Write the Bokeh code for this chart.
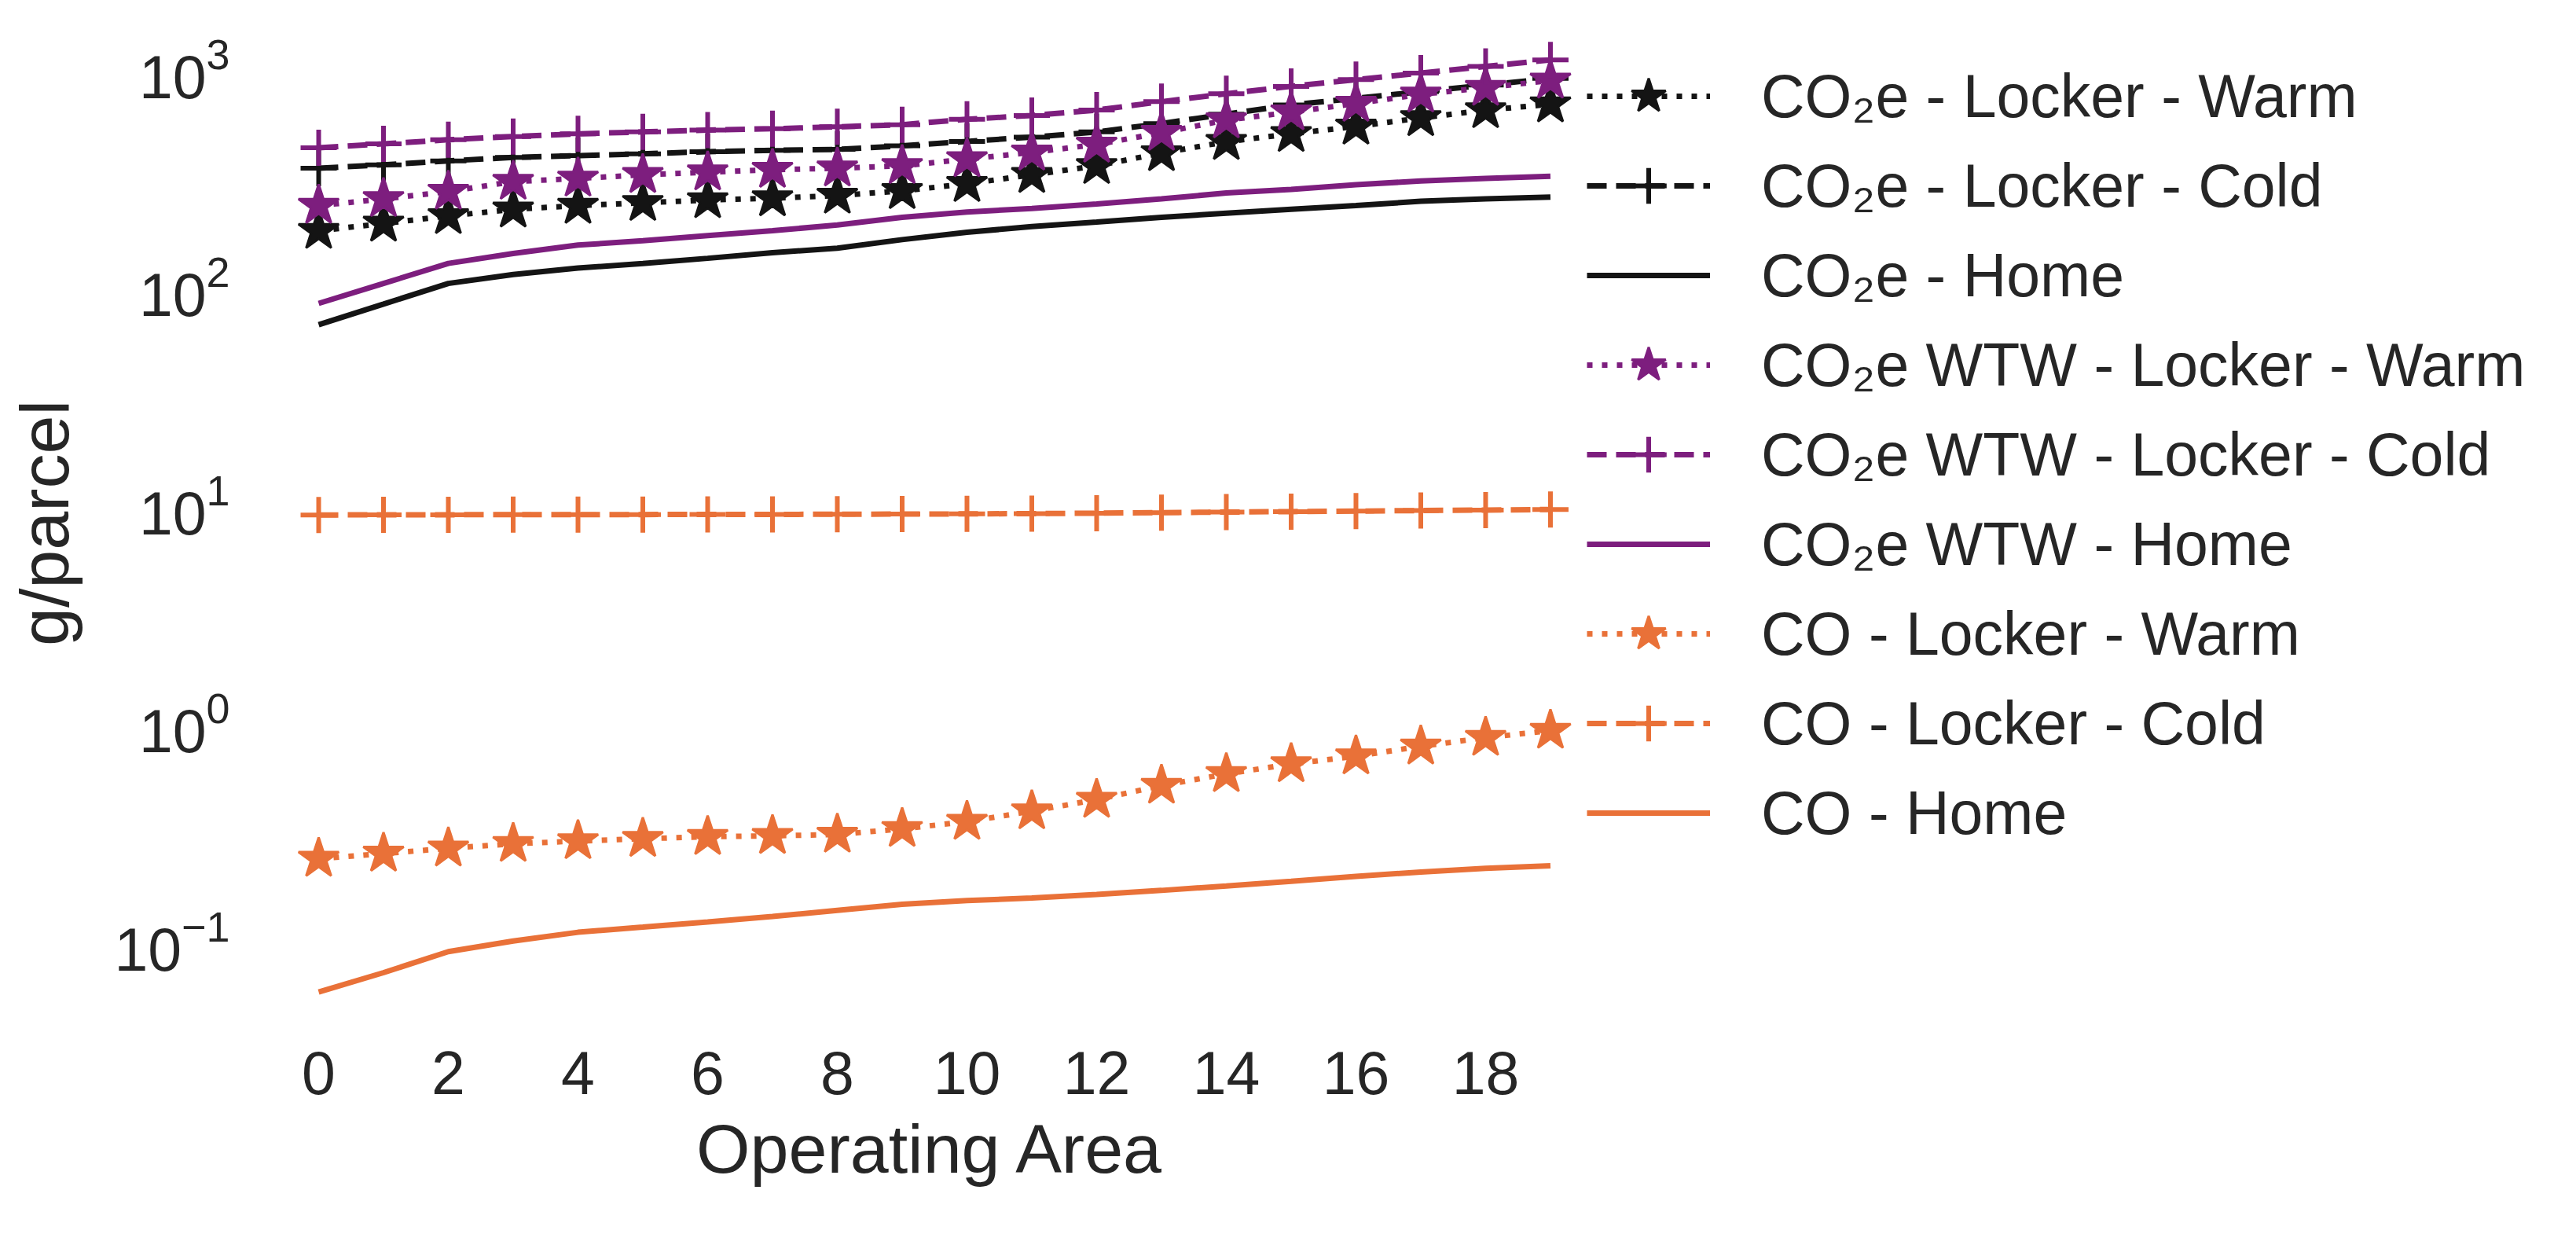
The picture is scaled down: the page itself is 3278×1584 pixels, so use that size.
from bokeh.plotting import figure
from bokeh.models import Range1d, FixedTicker, Legend, LegendItem
from bokeh.embed import file_html
from bokeh.resources import INLINE

# ---------------- data ----------------
operating_area = list(range(20))
x_ticks = [0, 2, 4, 6, 8, 10, 12, 14, 16, 18]
y_ticks = [0.1, 1, 10, 100, 1000]

co2e_locker_warm = [178, 192, 208, 223, 232, 239, 246, 251, 258, 271,
                    292, 321, 353, 404, 455, 495, 535, 585, 636, 676]
co2e_locker_cold = [344, 357, 372, 386, 393, 401, 410, 416, 420, 436,
                    457, 478, 505, 552, 609, 672, 720, 773, 828, 889]
co2e_home = [66, 82, 102, 112, 120, 126, 133, 141, 148, 162,
             175, 186, 195, 205, 214, 223, 232, 243, 249, 254]

wtw_locker_warm = [232, 249, 269, 299, 309, 321, 330, 339, 344, 353,
                   379, 407, 442, 501, 572, 622, 681, 751, 806, 869]
wtw_locker_cold = [427, 445, 465, 481, 495, 505, 515, 522, 533, 545,
                   577, 601, 636, 695, 756, 817, 877, 940, 1008, 1081]
wtw_home = [82.6, 102, 126, 140, 153, 160, 169, 178, 189, 205,
            217, 225, 236, 249, 265, 275, 289, 301, 309, 316]

co_locker_warm = [0.235, 0.248, 0.262, 0.275, 0.283, 0.290, 0.296, 0.299, 0.303, 0.322,
                  0.347, 0.388, 0.438, 0.508, 0.575, 0.638, 0.693, 0.769, 0.843, 0.908]
co_locker_cold = [8.85, 8.86, 8.87, 8.88, 8.88, 8.89, 8.90, 8.90, 8.92, 8.93,
                  8.95, 8.98, 9.02, 9.07, 9.12, 9.17, 9.22, 9.27, 9.32, 9.38]
co_home = [0.0575, 0.0705, 0.088, 0.0985, 0.108, 0.114, 0.1205, 0.1275, 0.136, 0.145,
           0.151, 0.155, 0.161, 0.168, 0.176, 0.185, 0.195, 0.204, 0.212, 0.218]

series_labels = [
    "CO\u2082e - Locker - Warm", "CO\u2082e - Locker - Cold", "CO\u2082e - Home",
    "CO\u2082e WTW - Locker - Warm", "CO\u2082e WTW - Locker - Cold", "CO\u2082e WTW - Home",
    "CO - Locker - Warm", "CO - Locker - Cold", "CO - Home",
]
series_values = [
    co2e_locker_warm, co2e_locker_cold, co2e_home,
    wtw_locker_warm, wtw_locker_cold, wtw_home,
    co_locker_warm, co_locker_cold, co_home,
]

# ---------------- styles ----------------
BLACK = "#141414"
PURPLE = "#7d1e7e"
ORANGE = "#e97138"
TEXT = "#262626"
FONT = "Liberation Sans"
colors = [BLACK] * 3 + [PURPLE] * 3 + [ORANGE] * 3
kinds = ["warm", "cold", "home"] * 3

p = figure(frame_width=1670, frame_height=1302,
           x_range=Range1d(-0.679, 19.564), y_range=Range1d(0.0366, 1803),
           y_axis_type="log", output_backend="svg", toolbar_location=None,
           min_border_left=349, min_border_right=0,
           min_border_top=14, min_border_bottom=252,
           background_fill_color="white", border_fill_color="white")
p.outline_line_color = None
p.grid.visible = False

p.xaxis.ticker = FixedTicker(ticks=x_ticks)
p.yaxis.ticker = FixedTicker(ticks=y_ticks, minor_ticks=[])
p.xaxis.axis_label = "Operating Area"
p.yaxis.axis_label = "g/parcel"

for ax in (p.xaxis[0], p.yaxis[0]):
    ax.axis_line_color = None
    ax.major_tick_line_color = None
    ax.minor_tick_line_color = None
    ax.major_tick_out = 0
    ax.major_tick_in = 0
    ax.minor_tick_out = 0
    ax.minor_tick_in = 0
    ax.major_label_text_font = FONT
    ax.major_label_text_font_size = "77px"
    ax.major_label_text_color = TEXT
    ax.axis_label_text_font = FONT
    ax.axis_label_text_font_size = "88px"
    ax.axis_label_text_font_style = "normal"
    ax.axis_label_text_color = TEXT

p.xaxis.major_label_standoff = 21
p.xaxis.axis_label_standoff = 17
p.yaxis.major_label_standoff = 57
p.yaxis.axis_label_standoff = 36

items = []
for label, vals, col, kind in zip(series_labels, series_values, colors, kinds):
    rs = []
    if kind == "warm":
        rs.append(p.line(operating_area, vals, line_color=col, line_width=7,
                         line_dash="7 12"))
        rs.append(p.scatter(operating_area, vals, marker="star", size=54,
                            fill_color=col, line_color=col, line_width=3))
    elif kind == "cold":
        rs.append(p.line(operating_area, vals, line_color=col, line_width=7,
                         line_dash="25 12"))
        rs.append(p.scatter(operating_area, vals, marker="cross", size=46,
                            line_color=col, line_width=6))
    else:
        rs.append(p.line(operating_area, vals, line_color=col, line_width=7))
    items.append(LegendItem(label=label, renderers=rs))

legend = Legend(items=items, location=(0, 225),
                glyph_width=157, glyph_height=114, label_height=114,
                label_standoff=65, spacing=0, padding=0, margin=0,
                border_line_color=None, background_fill_alpha=0,
                label_text_font=FONT, label_text_font_size="77px",
                label_text_color=TEXT, label_text_baseline="middle")
p.add_layout(legend, "right")

open("out.html", "w").write(file_html(p, INLINE))
